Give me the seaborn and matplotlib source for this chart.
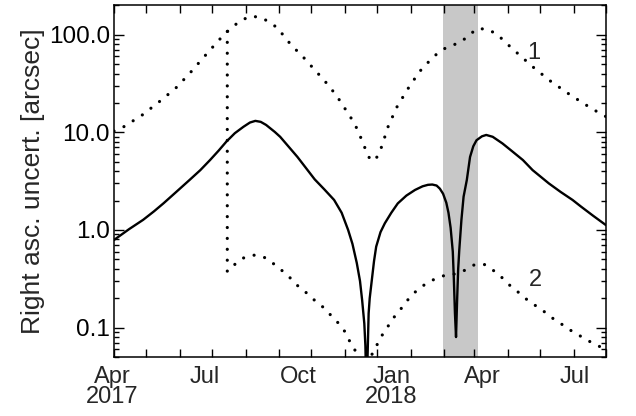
import matplotlib
matplotlib.use("Agg")
import matplotlib.pyplot as plt
import matplotlib.dates as mdates
from matplotlib.ticker import LogLocator, NullFormatter, FixedFormatter, FixedLocator
import numpy as np
import pandas as pd
import seaborn as sns

# ---- data -------------------------------------------------------------
solid_dates = [
    "2017-04-01", "2017-04-15", "2017-04-28", "2017-05-08", "2017-05-17",
    "2017-05-29", "2017-06-10", "2017-06-20", "2017-06-29", "2017-07-07",
    "2017-07-14", "2017-07-22", "2017-07-30", "2017-08-05", "2017-08-10",
    "2017-08-15", "2017-08-20", "2017-08-28", "2017-09-02", "2017-09-10",
    "2017-09-18", "2017-09-26", "2017-10-04", "2017-10-13", "2017-10-22",
    "2017-10-29", "2017-11-04", "2017-11-08", "2017-11-12", "2017-11-15",
    "2017-11-17", "2017-11-19", "2017-11-20", "2017-11-21", "2017-11-22",
    "2017-11-23", "2017-11-24", "2017-11-26", "2017-11-28", "2017-11-30",
    "2017-12-04", "2017-12-08", "2017-12-14", "2017-12-20", "2017-12-28",
    "2018-01-05", "2018-01-12", "2018-01-17", "2018-01-21", "2018-01-25",
    "2018-01-28", "2018-01-31", "2018-02-03", "2018-02-05", "2018-02-07",
    "2018-02-09", "2018-02-10", "2018-02-11", "2018-02-12", "2018-02-13",
    "2018-02-14", "2018-02-15", "2018-02-17", "2018-02-19", "2018-02-22",
    "2018-02-25", "2018-02-28", "2018-03-03", "2018-03-08", "2018-03-12",
    "2018-03-18", "2018-03-27", "2018-04-05", "2018-04-15", "2018-04-24",
    "2018-05-03", "2018-05-09", "2018-05-20", "2018-05-31", "2018-06-08",
    "2018-06-19", "2018-07-01",
]
solid_vals = [
    0.79, 1.02, 1.27, 1.55, 1.88,
    2.47, 3.25, 4.1, 5.2, 6.5,
    8.0, 9.8, 11.4, 12.6, 13.1,
    12.8, 11.9, 10.1, 9.0, 7.1,
    5.6, 4.3, 3.3, 2.6, 2.03,
    1.5, 1.0, 0.72, 0.46, 0.3,
    0.19, 0.11, 0.065, 0.02, 0.05,
    0.14, 0.2, 0.31, 0.48, 0.675,
    0.95, 1.17, 1.5, 1.87, 2.25,
    2.57, 2.8, 2.9, 2.92, 2.85,
    2.65, 2.35, 1.9, 1.5, 1.05,
    0.6, 0.31, 0.14, 0.08, 0.19,
    0.4, 0.62, 1.27, 2.19, 3.25,
    5.6, 7.2, 8.3, 9.1, 9.4,
    9.0, 7.7, 6.4, 5.2, 4.1,
    3.4, 3.0, 2.45, 2.03, 1.73,
    1.4, 1.12,
]

dot1_dates = [
    "2017-04-01", "2017-04-10", "2017-04-27", "2017-05-13", "2017-05-28",
    "2017-06-10", "2017-06-23", "2017-07-06", "2017-07-13", "2017-07-20",
    "2017-07-27", "2017-08-06", "2017-08-15", "2017-08-23", "2017-08-31",
    "2017-09-06", "2017-09-12", "2017-09-26", "2017-10-04", "2017-10-12",
    "2017-10-24", "2017-11-04", "2017-11-10", "2017-11-17", "2017-11-21",
    "2017-11-25", "2017-12-01", "2017-12-05", "2017-12-11", "2017-12-19",
    "2017-12-29", "2018-01-09", "2018-01-22", "2018-01-31", "2018-02-09",
    "2018-02-17", "2018-02-25", "2018-03-04", "2018-03-14", "2018-03-23",
    "2018-03-29", "2018-04-10", "2018-04-24", "2018-05-10", "2018-05-26",
    "2018-06-11", "2018-06-28", "2018-07-01",
]
dot1_vals = [
    10.3, 11.4, 15, 20.6, 28.2,
    40, 58.5, 85, 103, 120,
    139, 155, 150, 135, 116,
    95, 79, 55, 43.5, 35,
    24, 15.6, 12.3, 8.2, 6.3,
    5.1, 5.6, 7.1, 11.4, 18,
    27.5, 41.7, 59.4, 71, 78,
    85, 101, 116, 113, 99,
    85, 64.5, 47, 33.8, 25.4,
    19.5, 15, 14.5,
]

dot2_dates = [
    "2017-07-15", "2017-07-15", "2017-07-23", "2017-07-31", "2017-08-10",
    "2017-08-19", "2017-08-27", "2017-09-03", "2017-09-11", "2017-09-18",
    "2017-09-25", "2017-10-04", "2017-10-13", "2017-10-20", "2017-10-26",
    "2017-11-01", "2017-11-05", "2017-11-10", "2017-11-18", "2017-11-26",
    "2017-11-30", "2017-12-04", "2017-12-10", "2017-12-15", "2017-12-21",
    "2017-12-27", "2018-01-01", "2018-01-09", "2018-01-17", "2018-01-26",
    "2018-02-03", "2018-02-12", "2018-02-21", "2018-03-01", "2018-03-10",
    "2018-03-18", "2018-03-26", "2018-04-03", "2018-04-10", "2018-04-17",
    "2018-04-26", "2018-05-04", "2018-05-11", "2018-05-19", "2018-05-31",
    "2018-06-08", "2018-06-16", "2018-06-24", "2018-07-01",
]
dot2_vals = [
    108, 0.375, 0.455, 0.525, 0.555,
    0.52, 0.45, 0.39, 0.325, 0.27,
    0.234, 0.19, 0.158, 0.13, 0.111,
    0.091, 0.074, 0.06, 0.035, 0.053,
    0.064, 0.079, 0.099, 0.122, 0.146,
    0.178, 0.21, 0.253, 0.29, 0.325,
    0.346, 0.355, 0.39, 0.44, 0.445,
    0.39, 0.33, 0.27, 0.234, 0.2,
    0.17, 0.148, 0.128, 0.112, 0.091,
    0.081, 0.072, 0.065, 0.059,
]

band_start, band_end = "2018-01-31", "2018-03-04"
x_range = ("2017-04-01", "2018-07-01")
y_range = (0.05, 200)
y_ticks = [0.1, 1.0, 10.0, 100.0]
y_tick_labels = ["0.1", "1.0", "10.0", "100.0"]
x_label_dates = ["2017-04-01", "2017-07-01", "2017-10-01",
                 "2018-01-01", "2018-04-01", "2018-07-01"]
x_label_text = ["Apr\n2017", "Jul", "Oct", "Jan\n2018", "Apr", "Jul"]
y_label = "Right asc. uncert. [arcsec]"

# ---- style ------------------------------------------------------------
sns.set_style("ticks")
plt.rcParams["font.family"] = ["Liberation Sans", "DejaVu Sans"]
plt.rcParams["axes.linewidth"] = 1.1

fig = plt.figure(figsize=(6.36, 4.16), dpi=100)
ax = fig.add_axes([114 / 636, 1 - 357 / 416, 492 / 636, 351.7 / 416])

solid = pd.DataFrame({"date": pd.to_datetime(solid_dates), "val": solid_vals})
d1 = pd.DataFrame({"date": pd.to_datetime(dot1_dates), "val": dot1_vals})
d2 = pd.DataFrame({"date": pd.to_datetime(dot2_dates), "val": dot2_vals})

ax.axvspan(pd.Timestamp(band_start), pd.Timestamp(band_end),
           color="#c8c8c8", lw=0, zorder=0)

dotted = dict(color="black", linewidth=2.3, linestyle=(0, (0.01, 3.4)),
              dash_capstyle="round", estimator=None, sort=False)
sns.lineplot(data=d1, x="date", y="val", ax=ax, **dotted)
sns.lineplot(data=d2, x="date", y="val", ax=ax, **dotted)
sns.lineplot(data=solid, x="date", y="val", ax=ax, color="black",
             linewidth=1.7, estimator=None, sort=False)

ax.set_yscale("log")
ax.set_ylim(*y_range)
ax.set_xlim(pd.Timestamp(x_range[0]), pd.Timestamp(x_range[1]))

# y axis: decades labelled, 2..9 minor ticks
ax.yaxis.set_major_locator(FixedLocator(y_ticks))
ax.yaxis.set_major_formatter(FixedFormatter(y_tick_labels))
ax.yaxis.set_minor_locator(LogLocator(base=10, subs=np.arange(2, 10)))
ax.yaxis.set_minor_formatter(NullFormatter())

# x axis: monthly ticks, quarter labels written below
ax.xaxis.set_major_locator(mdates.MonthLocator())
ax.xaxis.set_major_formatter(NullFormatter())

ax.tick_params(axis="both", which="both", direction="in",
               top=True, right=True, colors="black", width=1.0)
ax.tick_params(axis="y", which="major", length=7.5, labelsize=17.5, pad=3)
ax.tick_params(axis="y", which="minor", length=3.8)
ax.tick_params(axis="x", which="major", length=5.5)

ax.set_xlabel("")
ax.set_ylabel(y_label, fontsize=19, labelpad=3)

# quarter labels, spaced a little tighter than the ticks
x0 = mdates.date2num(pd.Timestamp(x_range[0]))
x1 = mdates.date2num(pd.Timestamp(x_range[1]))
for text, d in zip(x_label_text, x_label_dates):
    f = (mdates.date2num(pd.Timestamp(d)) - x0) / (x1 - x0)
    ax.text(-0.004 + 0.941 * f, -0.026, text, transform=ax.transAxes,
            ha="center", va="top", fontsize=17, linespacing=0.88)

ax.text(0.854, 0.864, "1", transform=ax.transAxes, ha="center",
        va="center", fontsize=17)
ax.text(0.856, 0.220, "2", transform=ax.transAxes, ha="center",
        va="center", fontsize=17)

for s in ax.spines.values():
    s.set_color("black")

fig.savefig("out.png", dpi=100)
